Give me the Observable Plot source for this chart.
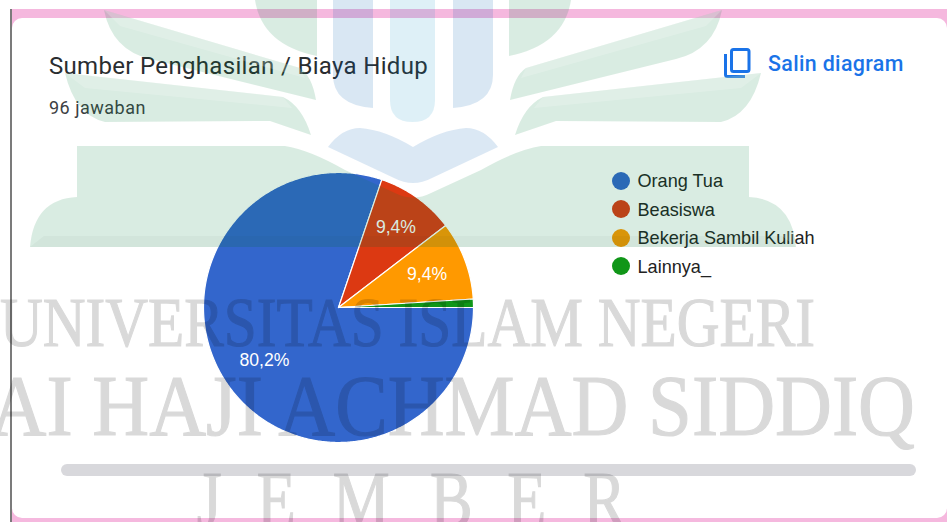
<!DOCTYPE html>
<html lang="id">
<head>
<meta charset="utf-8">
<script src="https://cdn.jsdelivr.net/npm/d3@7"></script>
<script src="https://cdn.jsdelivr.net/npm/@observablehq/plot@0.6"></script>
<style>
html,body{margin:0;padding:0;background:#fff;width:947px;height:522px;overflow:hidden}
#page{position:relative;width:947px;height:522px;overflow:hidden}
#pink{position:absolute;left:12px;top:9px;right:0;bottom:0;background:#f5b8de}
#rule{position:absolute;left:10px;top:9px;width:2px;bottom:0;background:#7b7b7b}
#card{position:absolute;left:12px;top:17.5px;width:935px;height:500.5px;background:#fff;border-radius:10px}
#chart{position:absolute;left:0;top:0}
.t{position:absolute;white-space:nowrap;font-family:Roboto,sans-serif}
#title{left:49px;top:51px;font-size:24px;line-height:30px;color:#2a2d30;letter-spacing:.32px}
#sub{left:49px;top:96px;font-size:18px;line-height:24px;color:#3c4043;letter-spacing:.5px}
#copy{left:768px;top:50px;font-size:21.4px;line-height:28px;color:#1a73e8;font-weight:500;letter-spacing:.35px}
#icon{position:absolute;left:0;top:0}
.lg{position:absolute;left:612px;height:18px}
.lg i{position:absolute;left:0;top:0;width:18px;height:18px;border-radius:50%}
.lg span{position:absolute;left:25.5px;top:-1.5px;font:18.1px/22px "Liberation Sans",Arial,sans-serif;color:#222;white-space:nowrap}
#wm{position:absolute;left:0;top:0;pointer-events:none}
</style>
</head>
<body>
<div id="page">
  <div id="pink"></div>
  <div id="rule"></div>
  <div id="card"></div>
  <div id="chart"></div>
  <div class="t" id="title"></div>
  <div class="t" id="sub"></div>
  <div class="t" id="copy"></div>
  <svg id="icon" width="947" height="522" fill="none" stroke="#1a73e8" stroke-width="3">
    <rect x="731.5" y="49.5" width="17.5" height="22" rx="2"/>
    <path d="M725.5 54V74.5a2 2 0 0 0 2 2H745"/>
  </svg>
  <div id="legend"></div>
  <svg id="wm" width="947" height="522" xmlns="http://www.w3.org/2000/svg">
    <defs>
      <g id="half">
        <path fill="rgba(0,128,62,.15)" d="M104 10L300 68Q312 76 316 100L150 59Q112 50 104 10Z"/>
        <path fill="rgba(0,128,62,.15)" d="M65 73L283 97Q302 106 311 135L270 121L105 122Q75 115 65 73Z"/>
        <path fill="rgba(0,128,62,.15)" d="M255 0H317V56Q262 45 255 0Z"/>
        <path fill="rgba(0,95,175,.15)" d="M333 0H373V108Q333 105 333 75Z"/>
        <path fill="rgba(255,255,255,.2)" d="M104 10L300 68L305 78L120 26Z"/>
        <path fill="rgba(255,255,255,.2)" d="M65 73L283 97L292 108L85 88Z"/>
        <path fill="rgba(255,255,255,.2)" d="M77 146H285L320 157H88V197L77 197Z"/>
        <path fill="rgba(255,255,255,.2)" d="M30 247Q34 200 77 197L88 197Q88 208 75 208Q50 210 44 236Z"/>
        <path fill="rgba(40,40,40,.035)" d="M30 247L44 236H413V247Z"/>
      </g>
    </defs>
    <use href="#half"/>
    <use href="#half" transform="translate(826,0) scale(-1,1)"/>
    <path fill="rgba(0,128,62,.15)" d="M30 247Q34 199 77 197V146H285Q310 150 345 170L395 193Q413 202 431 193L481 170Q516 150 541 146H749V197Q792 199 796 247Z"/>
    <path fill="rgba(0,140,193,.13)" d="M390 0H435V100Q435 122 412.5 122Q390 122 390 100Z"/>
    <path fill="rgba(0,95,175,.14)" d="M328 147Q342 128 360 128Q385 130 413 147Q441 130 466 128Q484 128 498 147L432 178Q413 188 394 178Z"/>
    <g font-family="'Liberation Serif',serif" fill="#000" stroke="#000" stroke-width="1.2" opacity=".15">
      <text x="0" y="346" font-size="70" textLength="815" lengthAdjust="spacingAndGlyphs">UNIVERSITAS ISLAM NEGERI</text>
      <text transform="translate(915,435) scale(.916,1)" font-size="86" text-anchor="end">AI HAJI ACHMAD SIDDIQ</text>
      <text transform="scale(.8,1)" x="246 321 416 537.5 634 729" y="527" font-size="80">JEMBER</text>
    </g>
    <rect x="61" y="464" width="855" height="12" rx="6" fill="rgba(10,15,35,.16)"/>
  </svg>
</div>
<script>
const categories = ["Orang Tua", "Beasiswa", "Bekerja Sambil Kuliah", "Lainnya_"];
const percents = [80.2, 9.4, 9.4, 1.0];
const labels = ["80,2%", "9,4%", "9,4%", ""];
const labelRadii = [0.675, 0.73, 0.70, 0];
const colors = ["#3366cc", "#dc3912", "#ff9900", "#109618"];
const titleText = "Sumber Penghasilan / Biaya Hidup";
const subtitleText = "96 jawaban";
const copyText = "Salin diagram";

document.getElementById("title").textContent = titleText;
document.getElementById("sub").textContent = subtitleText;
document.getElementById("copy").textContent = copyText;

// Google-chart style pie: first slice starts at 3 o'clock, clockwise.
const arcs = d3.pie().sort(null).value(d => d).startAngle(Math.PI / 2).endAngle(Math.PI / 2 + 2 * Math.PI)(percents);
const outline = [];
arcs.forEach((a, i) => {
  const name = categories[i];
  outline.push({name, x: 0, y: 0});
  const steps = Math.max(2, Math.ceil((a.endAngle - a.startAngle) / 0.01));
  for (let k = 0; k <= steps; k++) {
    const t = a.startAngle + (a.endAngle - a.startAngle) * k / steps;
    outline.push({name, x: Math.sin(t), y: Math.cos(t)});
  }
  outline.push({name, x: 0, y: 0});
});
const labelRows = arcs.map((a, i) => {
  const t = (a.startAngle + a.endAngle) / 2;
  return {label: labels[i], x: labelRadii[i] * Math.sin(t), y: labelRadii[i] * Math.cos(t)};
}).filter(d => d.label);

const plot = Plot.plot({
  width: 947,
  height: 522,
  margin: 0,
  style: {background: "transparent"},
  x: {axis: null, domain: [-1, 1], range: [203, 473]},
  y: {axis: null, domain: [-1, 1], range: [442, 172]},
  color: {domain: categories, range: colors},
  marks: [
    Plot.line(outline, {x: "x", y: "y", z: "name", fill: "name", stroke: "white", strokeWidth: 1.2, curve: "linear"}),
    Plot.text(labelRows, {x: "x", y: "y", text: "label", fill: "white", fontSize: 17.6, fontFamily: "'Liberation Sans',Arial,sans-serif"})
  ]
});
document.getElementById("chart").append(plot);

const legend = document.getElementById("legend");
categories.forEach((c, i) => {
  const row = document.createElement("div");
  row.className = "lg";
  row.style.top = (171.5 + i * 28.6) + "px";
  const dot = document.createElement("i");
  dot.style.background = colors[i];
  const text = document.createElement("span");
  text.textContent = c;
  row.append(dot, text);
  legend.append(row);
});
</script>
</body>
</html>
